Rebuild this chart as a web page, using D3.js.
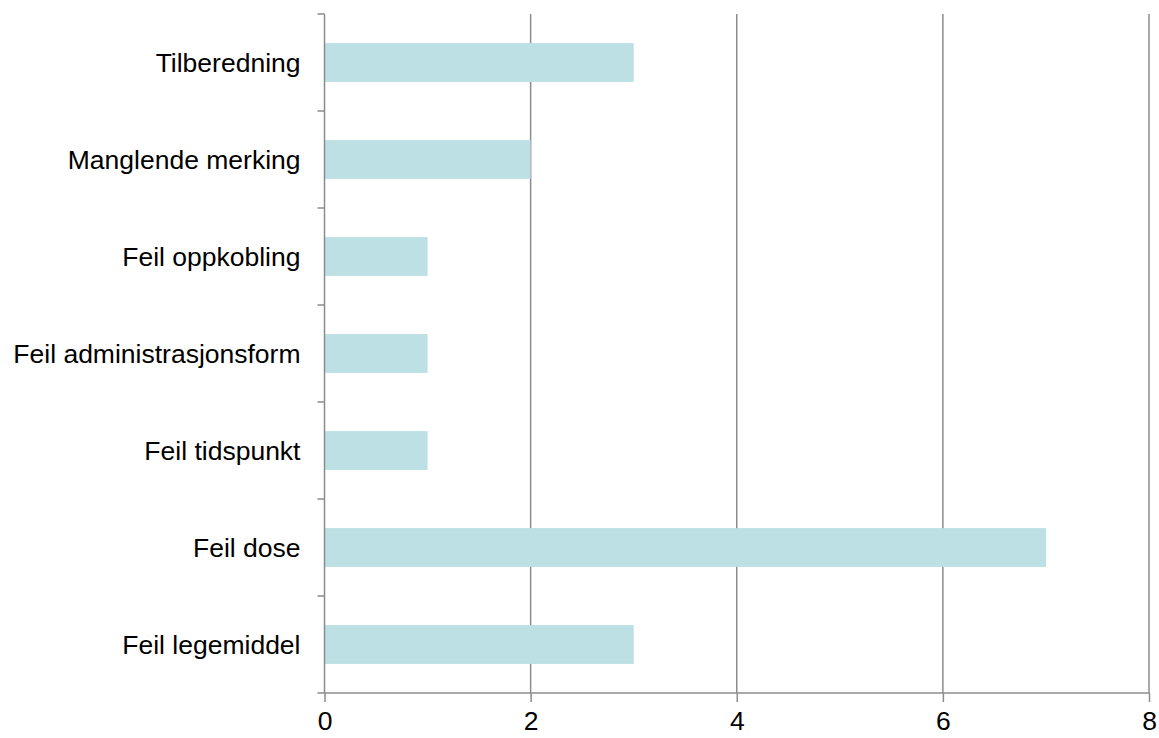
<!DOCTYPE html>
<html><head><meta charset="utf-8">
<script src="https://cdn.jsdelivr.net/npm/d3@7/dist/d3.min.js"></script>
<style>body{margin:0;background:#fff;}</style>
</head><body>
<svg id="c" width="1159" height="738"></svg>
<script>
const categories = ["Tilberedning","Manglende merking","Feil oppkobling","Feil administrasjonsform","Feil tidspunkt","Feil dose","Feil legemiddel"];
const values = [3,2,1,1,1,7,3];
const xTicks = [0,2,4,6,8];

(function(){
const svg = d3.select("#c");
const pLeft = 324.5, pRight = 1149, pTop = 14, pBottom = 693;
const font = "Liberation Sans, Arial, sans-serif";
const fs = 26.5;
const axisColor = "#8c8c8c";

const x = d3.scaleLinear().domain([0,8]).range([pLeft,pRight]);
const y = d3.scaleBand().domain(categories).range([pTop,pBottom]).paddingInner(0.6).paddingOuter(0.3);

// gridlines
svg.append("g").selectAll("line").data(xTicks.filter(d=>d>0)).join("line")
  .attr("x1",d=>x(d)).attr("x2",d=>x(d)).attr("y1",pTop).attr("y2",pBottom)
  .attr("stroke",axisColor).attr("stroke-width",1.5);

// bars
svg.append("g").selectAll("rect").data(values).join("rect")
  .attr("x",x(0)).attr("y",(d,i)=>y(categories[i]))
  .attr("width",d=>x(d)-x(0)).attr("height",y.bandwidth())
  .attr("fill","#bce0e3");

// x axis
const xa = svg.append("g").attr("transform",`translate(0,${pBottom})`)
  .call(d3.axisBottom(x).tickValues(xTicks).tickSize(9).tickPadding(9));
xa.select(".domain").attr("stroke",axisColor).attr("stroke-width",1.5).attr("d",`M${pLeft},0H${pRight}`);
xa.selectAll(".tick line").attr("stroke",axisColor).attr("stroke-width",1.5);
xa.selectAll(".tick text").attr("font-family",font).attr("font-size",fs).attr("fill","#000");

// y axis
const step = y.step();
const boundaries = d3.range(categories.length+1).map(i=> pTop + i*step);
svg.append("line").attr("x1",pLeft).attr("x2",pLeft).attr("y1",pTop).attr("y2",pBottom)
  .attr("stroke",axisColor).attr("stroke-width",1.5);
svg.append("g").selectAll("line").data(boundaries).join("line")
  .attr("x1",pLeft-7).attr("x2",pLeft).attr("y1",d=>d).attr("y2",d=>d)
  .attr("stroke",axisColor).attr("stroke-width",1.5);
svg.append("g").selectAll("text").data(categories).join("text")
  .attr("x",pLeft-24).attr("y",d=>y(d)+y.bandwidth()/2).attr("dy","0.35em")
  .attr("text-anchor","end").attr("font-family",font).attr("font-size",fs).attr("fill","#000")
  .text(d=>d);
})();
</script>
</body></html>
